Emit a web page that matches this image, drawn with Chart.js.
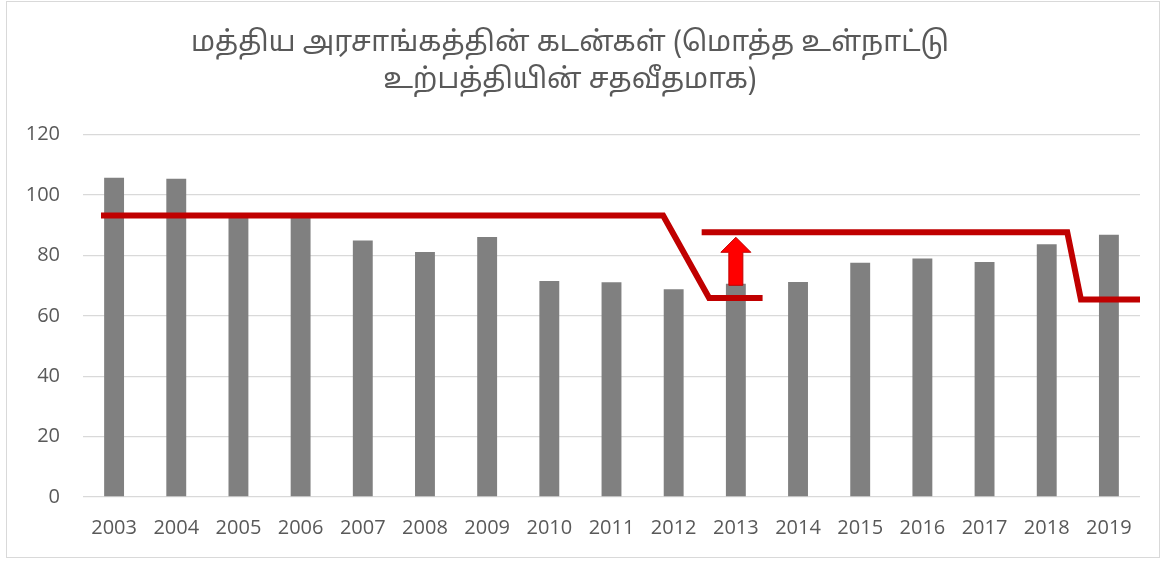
<!DOCTYPE html>
<html>
<head>
<meta charset="utf-8">
<script src="https://cdn.jsdelivr.net/npm/chart.js@4.4.1/dist/chart.umd.min.js"></script>
<style>
  html, body { margin: 0; padding: 0; background: #fff; }
  #wrap { width: 1165px; height: 561px; position: relative; }
</style>
</head>
<body>
<div id="wrap"><canvas id="debtChart"></canvas></div>
<script>
// years and debt values (% of GDP)
const years = ['2003', '2004', '2005', '2006', '2007', '2008', '2009', '2010', '2011',
               '2012', '2013', '2014', '2015', '2016', '2017', '2018', '2019'];
const debtValues = [105.7, 105.4, 93.0, 93.0, 84.9, 81.1, 86.1, 71.5, 71.1,
                    68.8, 70.6, 71.2, 77.6, 79.0, 77.8, 83.7, 86.8];

// red step lines drawn over the bars (x in years)
const stepOneX = [2002.79, 2011.83, 2012.57, 2013.43];
const stepOneY = [93.2, 93.2, 65.9, 65.9];
const stepTwoX = [2012.45, 2018.33, 2018.55, 2019.5];
const stepTwoY = [87.7, 87.7, 65.4, 65.4];

// arrow at 2013
const arrowYear = 2013;
const arrowFrom = 70.1;
const arrowTo = 86.0;

const yTicks = [0, 20, 40, 60, 80, 100, 120];

const chartTitle = ['மத்திய அரசாங்கத்தின் கடன்கள் (மொத்த உள்நாட்டு', 'உற்பத்தியின் சதவீதமாக)'];

function toPoints(xs, ys) {
    return xs.map((x, i) => ({ x: x, y: ys[i] }));
}

const frameAndArrow = {
    id: 'frameAndArrow',
    beforeDraw(chart) {
        const c = chart.ctx;
        c.save();
        c.strokeStyle = '#d9d9d9';
        c.lineWidth = 1;
        c.strokeRect(6.5, 1.5, 1153, 556);
        c.restore();
    },
    afterDatasetsDraw(chart) {
        const c = chart.ctx;
        const xs = chart.scales.xl;
        const ys = chart.scales.y;
        const cx = xs.getPixelForValue(arrowYear);
        const yb = ys.getPixelForValue(arrowFrom);
        const yt = ys.getPixelForValue(arrowTo);
        const shaft = 7, head = 15, headLen = 15;
        c.save();
        c.beginPath();
        c.moveTo(cx - shaft, yb);
        c.lineTo(cx - shaft, yt + headLen);
        c.lineTo(cx - head, yt + headLen);
        c.lineTo(cx, yt);
        c.lineTo(cx + head, yt + headLen);
        c.lineTo(cx + shaft, yt + headLen);
        c.lineTo(cx + shaft, yb);
        c.closePath();
        c.fillStyle = '#ff0000';
        c.fill();
        c.strokeStyle = '#c00000';
        c.lineWidth = 1;
        c.stroke();
        c.restore();
    }
};

const ctx = document.getElementById('debtChart').getContext('2d');

new Chart(ctx, {
    type: 'bar',
    data: {
        labels: years,
        datasets: [
            {
                type: 'bar',
                data: debtValues,
                xAxisID: 'x',
                backgroundColor: '#808080',
                barPercentage: 0.32,
                categoryPercentage: 1,
                grouped: false,
                order: 1
            },
            {
                type: 'line',
                data: toPoints(stepOneX, stepOneY),
                xAxisID: 'xl',
                borderColor: '#c00000',
                borderWidth: 6,
                pointRadius: 0,
                tension: 0,
                borderJoinStyle: 'miter',
                order: 0
            },
            {
                type: 'line',
                data: toPoints(stepTwoX, stepTwoY),
                xAxisID: 'xl',
                borderColor: '#c00000',
                borderWidth: 6,
                pointRadius: 0,
                tension: 0,
                borderJoinStyle: 'miter',
                order: 0
            }
        ]
    },
    options: {
        responsive: true,
        maintainAspectRatio: false,
        animation: false,
        layout: {
            padding: { left: 0, right: 25, top: 0, bottom: 10 }
        },
        plugins: {
            legend: { display: false },
            tooltip: { enabled: false },
            title: {
                display: true,
                text: chartTitle,
                color: '#595959',
                font: { family: "'Noto Sans Tamil', 'Lohit Tamil', 'Noto Sans', sans-serif", size: 28, weight: 'normal', lineHeight: 1.35 },
                padding: { top: 26, bottom: 33 }
            }
        },
        scales: {
            x: {
                type: 'category',
                offset: true,
                grid: { display: false },
                border: { display: false },
                ticks: {
                    color: '#595959',
                    font: { family: "'Open Sans', sans-serif", size: 20 },
                    padding: 11,
                    maxRotation: 0,
                    autoSkip: false
                }
            },
            xl: {
                type: 'linear',
                display: false,
                offset: false,
                min: 2002.5,
                max: 2019.5
            },
            y: {
                min: 0,
                max: 120,
                afterBuildTicks(scale) {
                    scale.ticks = yTicks.map(v => ({ value: v }));
                },
                afterFit(scale) {
                    scale.width = 83;
                },
                grid: { color: '#d9d9d9', lineWidth: 1.3, drawTicks: false },
                border: { display: false },
                ticks: {
                    color: '#595959',
                    font: { family: "'Open Sans', sans-serif", size: 20 },
                    padding: 23
                }
            }
        }
    },
    plugins: [frameAndArrow]
});
</script>
</body>
</html>
